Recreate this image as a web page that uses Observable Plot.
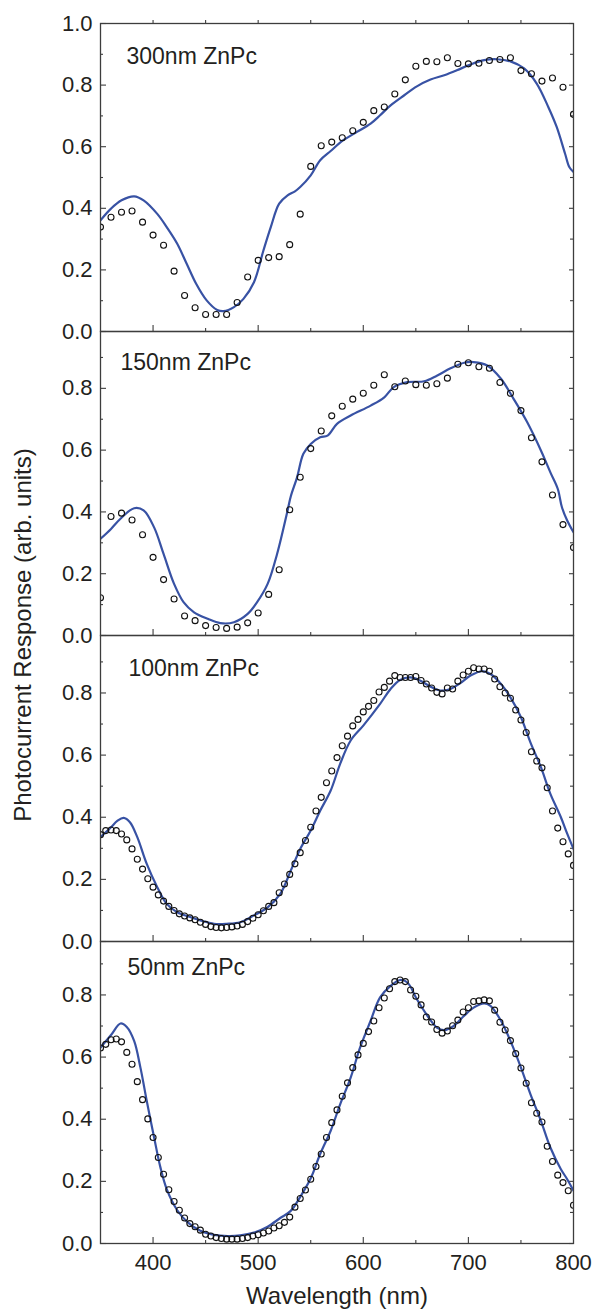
<!DOCTYPE html>
<html><head><meta charset="utf-8">
<script src="https://cdn.jsdelivr.net/npm/d3@7"></script>
<script src="https://cdn.jsdelivr.net/npm/@observablehq/plot@0.6"></script>
<style>
body{margin:0;background:#fff;}
#chart{position:relative;width:593px;height:1310px;overflow:hidden;font-family:"Liberation Sans",Arial,sans-serif;color:#231f20;}
#chart svg{position:absolute;left:0;}
#ylab{position:absolute;left:23.4px;top:634.5px;transform:translate(-50%,-50%) rotate(-90deg);font-size:24px;white-space:nowrap;line-height:1.15;}
</style></head>
<body><div id="chart"><div id="ylab">Photocurrent Response (arb. units)</div></div>
<script>
// ---------- data ----------
const panelLabels = ["300nm ZnPc", "150nm ZnPc", "100nm ZnPc", "50nm ZnPc"];
const xTickLabels = [400, 500, 600, 700, 800];
const xMajorTicks = [400, 500, 600, 700];
const xMinorTicks = [450, 550, 650, 750];
const yTickLabels = [0, 0.2, 0.4, 0.6, 0.8, 1.0];
const yMinorTicks = [0.1, 0.3, 0.5, 0.7, 0.9];

const wl10 = [350,360,370,380,390,400,410,420,430,440,450,460,470,480,490,500,510,520,530,540,550,560,570,580,590,600,610,620,630,640,650,660,670,680,690,700,710,720,730,740,750,760,770,780,790,800];
const wl5 = [350,355,360,365,370,375,380,385,390,395,400,405,410,415,420,425,430,435,440,445,450,455,460,465,470,475,480,485,490,495,500,505,510,515,520,525,530,535,540,545,550,555,560,565,570,575,580,585,590,595,600,605,610,615,620,625,630,635,640,645,650,655,660,665,670,675,680,685,690,695,700,705,710,715,720,725,730,735,740,745,750,755,760,765,770,775,780,785,790,795,800];

// 300 nm
const meas300 = [0.339,0.371,0.387,0.391,0.355,0.313,0.280,0.196,0.117,0.077,0.055,0.055,0.055,0.094,0.177,0.231,0.240,0.243,0.282,0.381,0.536,0.603,0.615,0.629,0.652,0.679,0.717,0.729,0.771,0.817,0.861,0.877,0.876,0.889,0.870,0.869,0.871,0.880,0.883,0.889,0.847,0.837,0.813,0.823,0.793,0.705];
const fitX300 = [350,360,370,382,391,404,413,423,432,441,451,461,467,477,486,496,505,512,520,528,535,540,550,559,569,581,594,607,616,626,639,651,664,677,689,702,715,727,740,753,765,776,784,792,796,800];
const fitY300 = [0.361,0.399,0.426,0.439,0.426,0.382,0.339,0.285,0.220,0.155,0.101,0.070,0.066,0.079,0.106,0.160,0.263,0.339,0.415,0.442,0.455,0.469,0.507,0.556,0.586,0.621,0.648,0.675,0.702,0.734,0.767,0.796,0.818,0.832,0.848,0.867,0.881,0.884,0.877,0.854,0.805,0.729,0.664,0.577,0.534,0.518];

// 150 nm
const meas150 = [0.122,0.385,0.396,0.374,0.326,0.253,0.181,0.118,0.063,0.048,0.032,0.026,0.023,0.027,0.041,0.073,0.133,0.213,0.407,0.512,0.605,0.662,0.711,0.742,0.765,0.784,0.810,0.844,0.805,0.824,0.812,0.810,0.815,0.833,0.878,0.883,0.870,0.865,0.819,0.784,0.728,0.640,0.562,0.455,0.359,0.285];
const fitX150 = [350,360,369,382,391,401,410,420,429,439,452,464,477,490,499,509,518,528,531,537,543,550,559,566,575,588,607,620,629,642,658,670,683,696,705,718,731,743,756,769,778,785,789,794,800];
const fitY150 = [0.313,0.345,0.378,0.412,0.405,0.350,0.264,0.167,0.108,0.075,0.054,0.040,0.043,0.070,0.108,0.167,0.264,0.405,0.450,0.512,0.588,0.620,0.642,0.647,0.685,0.712,0.744,0.771,0.804,0.820,0.823,0.841,0.865,0.883,0.885,0.874,0.831,0.766,0.690,0.599,0.528,0.475,0.415,0.372,0.334];

// 100 nm
const meas100 = [0.344,0.357,0.359,0.357,0.346,0.327,0.298,0.265,0.233,0.202,0.175,0.150,0.130,0.113,0.100,0.089,0.082,0.076,0.070,0.062,0.055,0.048,0.045,0.044,0.045,0.047,0.050,0.055,0.064,0.075,0.086,0.099,0.113,0.125,0.157,0.185,0.216,0.250,0.286,0.325,0.368,0.420,0.464,0.511,0.549,0.592,0.630,0.661,0.694,0.715,0.739,0.757,0.776,0.803,0.818,0.838,0.856,0.850,0.850,0.850,0.853,0.840,0.829,0.816,0.802,0.797,0.816,0.813,0.838,0.858,0.870,0.881,0.877,0.877,0.870,0.845,0.820,0.800,0.783,0.745,0.713,0.673,0.611,0.581,0.559,0.495,0.420,0.365,0.321,0.282,0.245];
const fitX100 = [350,360,366,372,378,385,394,404,413,423,436,445,458,470,483,496,509,521,531,540,550,559,569,578,588,600,616,626,635,645,654,664,673,683,692,702,713,721,731,740,750,759,769,778,788,794,800];
const fitY100 = [0.336,0.368,0.388,0.398,0.384,0.336,0.250,0.175,0.121,0.094,0.078,0.068,0.057,0.057,0.062,0.084,0.110,0.153,0.228,0.298,0.357,0.421,0.486,0.572,0.647,0.695,0.765,0.813,0.842,0.850,0.840,0.820,0.808,0.813,0.831,0.856,0.870,0.861,0.829,0.786,0.722,0.641,0.561,0.475,0.400,0.347,0.298];

// 50 nm
const meas50 = [0.629,0.641,0.656,0.658,0.649,0.615,0.577,0.521,0.463,0.401,0.341,0.277,0.223,0.173,0.135,0.107,0.082,0.064,0.054,0.043,0.030,0.024,0.019,0.016,0.014,0.014,0.014,0.016,0.019,0.024,0.028,0.034,0.040,0.050,0.057,0.068,0.085,0.117,0.145,0.172,0.207,0.248,0.288,0.341,0.389,0.430,0.474,0.517,0.566,0.607,0.644,0.682,0.716,0.759,0.790,0.820,0.843,0.848,0.843,0.816,0.796,0.768,0.729,0.713,0.689,0.677,0.684,0.701,0.719,0.745,0.759,0.779,0.781,0.784,0.781,0.751,0.712,0.687,0.653,0.611,0.565,0.516,0.453,0.419,0.391,0.313,0.264,0.220,0.196,0.170,0.123];
const fitX50 = [350,360,369,375,382,388,394,401,407,413,423,433,445,458,471,483,496,509,521,531,540,550,559,569,578,588,597,607,616,626,635,642,651,661,670,677,686,696,705,715,721,731,740,750,759,769,778,788,794,800];
const fitY50 = [0.631,0.671,0.708,0.697,0.652,0.566,0.459,0.341,0.245,0.175,0.107,0.068,0.041,0.028,0.024,0.026,0.035,0.054,0.082,0.105,0.150,0.210,0.288,0.363,0.448,0.534,0.631,0.717,0.792,0.829,0.848,0.840,0.786,0.733,0.695,0.687,0.700,0.733,0.759,0.773,0.765,0.717,0.652,0.566,0.481,0.395,0.309,0.239,0.207,0.170];

const panels = [
  {label: panelLabels[0], mx: wl10, my: meas300, fx: fitX300, fy: fitY300},
  {label: panelLabels[1], mx: wl10, my: meas150, fx: fitX150, fy: fitY150},
  {label: panelLabels[2], mx: wl5,  my: meas100, fx: fitX100, fy: fitY100},
  {label: panelLabels[3], mx: wl5,  my: meas50,  fx: fitX50,  fy: fitY50}
];

// ---------- layout ----------
const W = 593, ML = 100, MR = 20, FW = W - ML - MR;
const frames = [[23, 331], [331, 635], [635, 941], [941, 1243]];
const yTops = [1.0, 0.984, 0.985, 0.972];
const labelPos = [[26, 24.4], [20, 22.3], [28, 24.3], [27, 17.3]];
const axisColor = "#3d3d3d", textColor = "#231f20", fitColor = "#3852a4";
const font = "'Liberation Sans', Arial, Helvetica, sans-serif";

const chart = document.getElementById("chart");
panels.forEach((p, i) => {
  const [t, b] = frames[i];
  const fh = b - t;
  const mt = 12, mb = i === 3 ? 1310 - b : 12;
  const top = yTops[i];
  const yLab = yTickLabels.filter(v => v <= top + 1e-9);
  const yMin = yMinorTicks.filter(v => v <= top);
  const dots = p.mx.map((x, k) => ({x, y: p.my[k]}));
  const fit = p.fx.map((x, k) => ({x, y: p.fy[k]}));
  const tickStyle = {stroke: axisColor, strokeWidth: 1.1};
  const marks = [
    Plot.tickY(yLab, {y: d => d, insetRight: FW - 6, ...tickStyle}),
    Plot.tickY(yMin, {y: d => d, insetRight: FW - 3, ...tickStyle}),
    Plot.tickY(yLab, {y: d => d, insetLeft: FW - 4, ...tickStyle}),
    Plot.tickY(yMin, {y: d => d, insetLeft: FW - 3, ...tickStyle}),
    Plot.tickX(xMajorTicks, {x: d => d, insetTop: fh - 6, ...tickStyle}),
    Plot.tickX(xMinorTicks, {x: d => d, insetTop: fh - 3, ...tickStyle}),
    Plot.axisY(yLab, {tickSize: 0, tickPadding: 8, tickFormat: d3.format(".1f"), fontSize: 22, fill: textColor, label: null}),
    Plot.line(fit, {x: "x", y: "y", curve: "catmull-rom", stroke: fitColor, strokeWidth: 2.2, clip: true}),
    Plot.dot(dots, {x: "x", y: "y", r: 3, stroke: "#111", strokeWidth: 1.1, fill: "none", clip: true}),
    Plot.text([p.label], {frameAnchor: "top-left", dx: labelPos[i][0], dy: labelPos[i][1], lineAnchor: "top", textAnchor: "start", fontSize: 23, fill: textColor}),
    Plot.frame({stroke: axisColor, strokeWidth: 1.3})
  ];
  if (i === 0) {
    marks.push(Plot.tickX([...xMajorTicks, ...xMinorTicks], {x: d => d, insetTop: -3, insetBottom: fh, ...tickStyle}));
  }
  if (i === 3) {
    marks.push(Plot.axisX(xTickLabels, {anchor: "bottom", tickSize: 0, tickPadding: 11, fontSize: 22, fill: textColor, label: null}));
    marks.push(Plot.text(["Wavelength (nm)"], {frameAnchor: "bottom", dy: 43, lineAnchor: "top", fontSize: 24, fill: textColor}));
  }
  const svg = Plot.plot({
    width: W,
    height: mt + fh + mb,
    marginLeft: ML, marginRight: MR, marginTop: mt, marginBottom: mb,
    x: {domain: [350, 800], axis: i === 3 ? undefined : null},
    y: {domain: [0, top]},
    style: {fontFamily: font, color: textColor, background: "transparent", overflow: "visible"},
    marks
  });
  svg.style.top = (t - mt) + "px";
  chart.appendChild(svg);
});
</script>
</body></html>
